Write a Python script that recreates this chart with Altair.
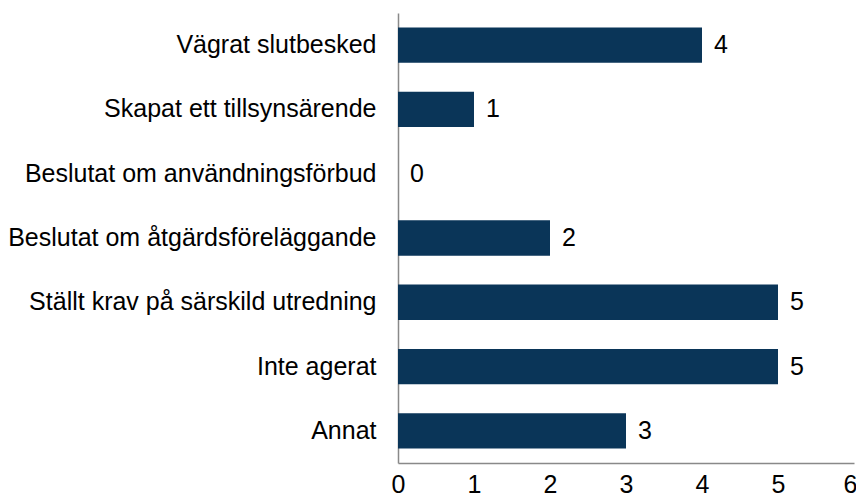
import altair as alt
import pandas as pd

categories = [
    "Vägrat slutbesked",
    "Skapat ett tillsynsärende",
    "Beslutat om användningsförbud",
    "Beslutat om åtgärdsföreläggande",
    "Ställt krav på särskild utredning",
    "Inte agerat",
    "Annat",
]
values = [4, 1, 0, 2, 5, 5, 3]
x_ticks = [0, 1, 2, 3, 4, 5, 6]

df = pd.DataFrame({"cat": categories, "val": values})

FONT = "Liberation Sans"
FS = 25
y_enc = alt.Y("cat:N", sort=categories,
              scale=alt.Scale(paddingInner=0.45, paddingOuter=0.225),
              axis=alt.Axis(title=None, ticks=False, domainColor="#898989",
                            domainWidth=1.5, labelFont=FONT, labelFontSize=FS,
                            labelColor="#000000", labelPadding=22, labelLimit=400))
x_enc = alt.X("val:Q", scale=alt.Scale(domain=[0, 6], nice=False),
              axis=alt.Axis(title=None, values=x_ticks, format="d", ticks=False,
                            grid=False, domainColor="#898989", domainWidth=1.5,
                            labelFont=FONT, labelFontSize=FS, labelColor="#000000",
                            labelPadding=9, labelFlush=False,
                            labelOffset={"expr": "datum.value == 6 ? -4 : 0"}))

bars = alt.Chart(df).mark_bar(color="#0A3558").encode(x=x_enc, y=y_enc)
text = alt.Chart(df).mark_text(align="left", baseline="middle", dx=12,
                               font=FONT, fontSize=FS, color="#000000").encode(
    x="val:Q", y=alt.Y("cat:N", sort=categories), text="val:Q")

chart = (bars + text).properties(
    width=456, height=450,
    autosize=alt.AutoSizeParams(type="none"),
    padding={"left": 390, "top": 5, "right": 2, "bottom": 33},
).configure_view(stroke=None)

chart.save("out.html", embed_options={"renderer": "svg", "actions": False})
